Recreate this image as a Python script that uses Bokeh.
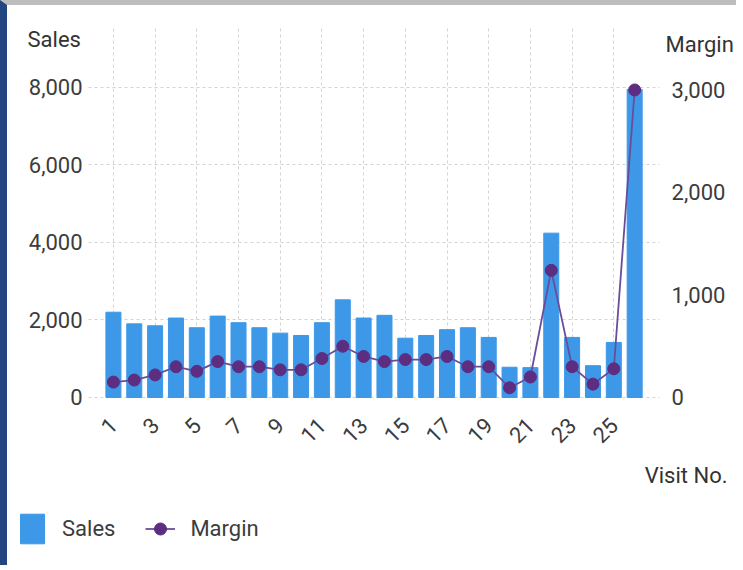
from bokeh.plotting import figure
from bokeh.models import (ColumnDataSource, Range1d, LinearAxis, FixedTicker,
                          NumeralTickFormatter, Label, Legend, LegendItem)
from bokeh.embed import file_html
from bokeh.resources import INLINE
from math import pi

# Visit numbers and the two measures per visit
visits = list(range(1, 27))
sales = [2200, 1900, 1850, 2050, 1800, 2100, 1930, 1800, 1660, 1600,
         1930, 2520, 2050, 2120, 1530, 1600, 1750, 1800, 1550, 780,
         770, 4240, 1550, 820, 1420, 7950]
margin = [150, 170, 220, 300, 255, 350, 300, 300, 270, 270,
          380, 500, 400, 350, 370, 370, 400, 300, 300, 95,
          200, 1240, 300, 130, 280, 3000]
x_ticks = list(range(1, 26, 2))
sales_ticks = [0, 2000, 4000, 6000, 8000]
margin_ticks = [0, 1000, 2000, 3000]

FONT = "Roboto"
TXT = "#3c3c3c"
BAR = "#3d98e8"
LINE = "#6b4c9a"
DOT = "#5c2d80"
GRID = "#d2d2d2"

# The plotting frame covers the whole canvas; the axes are pinned inside it,
# which leaves room for the titles and the legend around the chart area.
X_LO, X_HI = -4.08, 31.22          # visits; chart area runs 0 .. 27.1
PLOT_X_END = 27.1
S_LO, S_HI = -4465, 10115          # sales; chart area runs 0 .. 9520
PLOT_S_TOP = 9520
M_LO, M_HI = -1688, 3824           # margin

src = ColumnDataSource(dict(visit=visits, sales=sales, margin=margin))

p = figure(width=736, height=565, output_backend="svg", toolbar_location=None,
           x_range=Range1d(X_LO, X_HI), y_range=Range1d(S_LO, S_HI),
           min_border=0, outline_line_color=None,
           background_fill_color="white", border_fill_color="white")
p.styles = {"border-left": "7px solid #22467f", "border-top": "5px solid #bdbdbd"}
p.extra_y_ranges = {"margin": Range1d(M_LO, M_HI)}

# dashed grid, limited to the chart area
p.xgrid.ticker = FixedTicker(ticks=x_ticks)
p.ygrid.ticker = FixedTicker(ticks=sales_ticks)
p.xgrid.cross_bounds = (0, PLOT_S_TOP)
p.ygrid.cross_bounds = (-0.2, PLOT_X_END + 0.1)
p.grid.grid_line_color = GRID
p.grid.grid_line_dash = "3 3"
p.grid.grid_line_width = 1

# axes pinned to the edges of the chart area
p.xaxis.ticker = FixedTicker(ticks=x_ticks)
p.xaxis.major_label_orientation = pi / 4
p.xaxis.fixed_location = 0
p.yaxis.ticker = FixedTicker(ticks=sales_ticks)
p.yaxis.formatter = NumeralTickFormatter(format="0,0")
p.yaxis.fixed_location = 0
right = LinearAxis(y_range_name="margin", ticker=FixedTicker(ticks=margin_ticks),
                   formatter=NumeralTickFormatter(format="0,0"),
                   fixed_location=PLOT_X_END)
p.add_layout(right, "right")
for ax in (p.xaxis[0], p.yaxis[0], right):
    ax.axis_line_color = None
    ax.major_tick_line_color = None
    ax.major_tick_in = 0
    ax.major_tick_out = 0
    ax.minor_tick_line_color = None
    ax.major_label_text_font = FONT
    ax.major_label_text_font_size = "22px"
    ax.major_label_text_color = TXT
p.yaxis.major_label_standoff = 10
right.major_label_standoff = 14
p.xaxis.major_label_standoff = 24

bars = p.vbar(x="visit", top="sales", width=0.72, source=src, color=BAR)
ln = p.line(x="visit", y="margin", source=src, line_color=LINE, line_width=1.8,
            y_range_name="margin")
dots = p.scatter(x="visit", y="margin", source=src, size=12, fill_color=DOT,
                 line_color=DOT, y_range_name="margin")

# axis titles
for txt, x, y, align in (("Sales", 20, 531, "left"),
                         ("Margin", 658, 526, "left"),
                         ("Visit No.", 720, 95, "right")):
    p.add_layout(Label(x=x, y=y, x_units="screen", y_units="screen", text=txt,
                       text_font=FONT, text_font_size="22px", text_color="#333333",
                       text_align=align, text_baseline="middle"))

legend = Legend(items=[LegendItem(label="Sales", renderers=[bars]),
                       LegendItem(label="Margin", renderers=[ln, dots])],
                orientation="horizontal", location=(10, 23),
                label_text_font=FONT, label_text_font_size="22px",
                label_text_color=TXT, glyph_width=30, glyph_height=37,
                label_standoff=15, spacing=30, padding=0, margin=0,
                border_line_color=None, background_fill_alpha=0)
p.add_layout(legend, "center")

open("out.html", "w").write(file_html(p, INLINE))
